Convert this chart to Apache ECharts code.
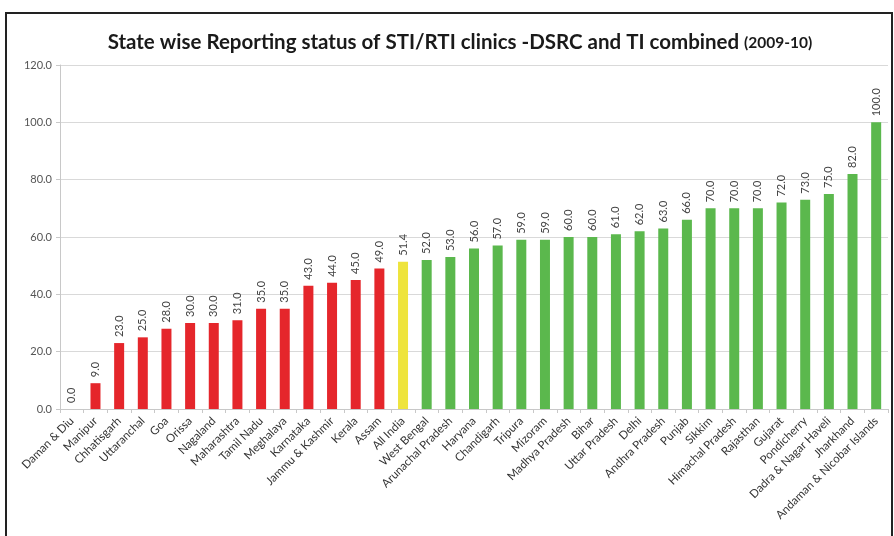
<!DOCTYPE html>
<html>
<head>
<meta charset="utf-8">
<script src="https://cdn.jsdelivr.net/npm/echarts@6/dist/echarts.min.js"></script>
<style>
  html, body { margin: 0; padding: 0; background: #fff; }
  #chart { width: 894px; height: 536px; }
</style>
</head>
<body>
<div id="chart"></div>
<script>
// states, sorted by reporting %
const states = [
  'Daman & Diu', 'Manipur', 'Chhatisgarh', 'Uttaranchal', 'Goa', 'Orissa', 'Nagaland',
  'Maharashtra', 'Tamil Nadu', 'Meghalaya', 'Karnataka', 'Jammu & Kashmir', 'Kerala',
  'Assam', 'All India', 'West Bengal', 'Arunachal Pradesh', 'Haryana', 'Chandigarh',
  'Tripura', 'Mizoram', 'Madhya Pradesh', 'Bihar', 'Uttar Pradesh', 'Delhi',
  'Andhra Pradesh', 'Punjab', 'Sikkim', 'Himachal Pradesh', 'Rajasthan', 'Gujarat',
  'Pondicherry', 'Dadra & Nagar Haveli', 'Jharkhand', 'Andaman & Nicobar Islands'
]
const reporting = [
  0, 9, 23, 25, 28, 30, 30, 31, 35, 35, 43, 44, 45, 49, 51.4, 52, 53, 56, 57,
  59, 59, 60, 60, 61, 62, 63, 66, 70, 70, 70, 72, 73, 75, 82, 100
]
const yTicks = [0, 20, 40, 60, 80, 100, 120]

const allIndia = reporting[states.indexOf('All India')]

const chart = echarts.init(document.getElementById('chart'))

const option = {
  backgroundColor: '#fff',
  animation: false,
  title: {
    text: '{m|State wise Reporting status of STI/RTI clinics -DSRC and TI combined} {s|(2009-10)}',
    left: 455,
    top: 27,
    textAlign: 'center',
    textStyle: {
      rich: {
        m: { fontFamily: 'Lato', fontWeight: 'bold', fontSize: 20.5, color: '#1a1a1a' },
        s: { fontFamily: 'Lato', fontWeight: 'bold', fontSize: 15.5, color: '#1a1a1a' }
      }
    }
  },
  graphic: [
    {
      type: 'rect',
      shape: { x: 6, y: 13, width: 886, height: 540 },
      style: { fill: 'none', stroke: '#222', lineWidth: 2 },
      silent: true
    }
  ],
  grid: {
    left: 60,
    right: 6,
    top: 65,
    bottom: 127
  },
  xAxis: {
    type: 'category',
    data: states,
    axisLine: { lineStyle: { color: '#c8c8c8' } },
    axisTick: { show: true, length: 4, lineStyle: { color: '#c8c8c8' } },
    axisLabel: {
      interval: 0,
      rotate: 45,
      fontFamily: 'Lato',
      fontSize: 11.5,
      color: '#333',
      margin: 10
    }
  },
  yAxis: {
    type: 'value',
    min: yTicks[0],
    max: yTicks[yTicks.length - 1],
    interval: 20,
    axisLine: { show: true, lineStyle: { color: '#c8c8c8' } },
    axisTick: { show: true, length: 4, lineStyle: { color: '#c8c8c8' } },
    splitLine: { lineStyle: { color: '#d9d9d9' } },
    axisLabel: {
      formatter: v => v.toFixed(1),
      fontFamily: 'Lato',
      fontSize: 11,
      color: '#555',
      margin: 8
    }
  },
  series: [
    {
      type: 'bar',
      data: reporting,
      barWidth: 10,
      itemStyle: {
        color: p => {
          if (states[p.dataIndex] === 'All India') return '#eee43c'
          return p.value < allIndia ? '#e5262b' : '#5bb84d'
        }
      },
      label: {
        show: true,
        position: 'top',
        rotate: 90,
        align: 'left',
        verticalAlign: 'middle',
        distance: 6,
        formatter: p => p.value.toFixed(1),
        fontFamily: 'Lato',
        fontSize: 11,
        color: '#444'
      }
    }
  ]
}

chart.setOption(option)
</script>
</body>
</html>
